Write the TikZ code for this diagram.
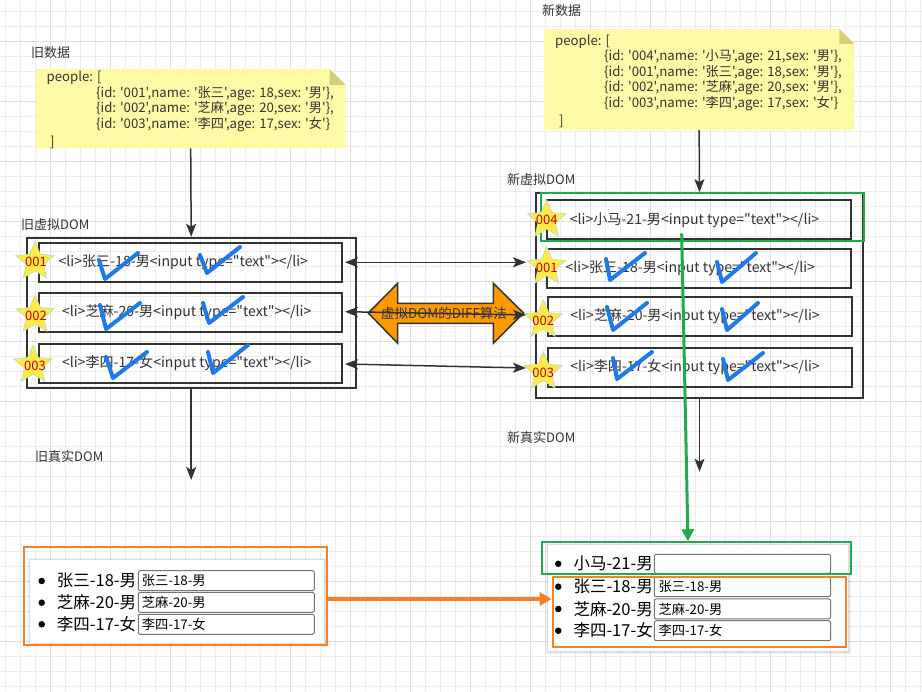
\documentclass[tikz,border=0pt]{standalone}
\usepackage{fontspec}
\setmainfont{Noto Sans CJK SC}[Ligatures=TeXOff]
\usetikzlibrary{arrows.meta,shapes.geometric}
\definecolor{dk}{RGB}{51,51,51}
\definecolor{gridminor}{RGB}{236,236,236}
\definecolor{gridmajor}{RGB}{222,222,222}
\definecolor{notefill}{RGB}{255,250,165}
\definecolor{notefold}{RGB}{212,206,122}
\definecolor{stary}{RGB}{255,234,70}
\definecolor{starline}{RGB}{196,222,186}
\definecolor{starred}{RGB}{204,0,0}
\definecolor{chkblue}{RGB}{30,122,236}
\definecolor{dgreen}{RGB}{34,170,76}
\definecolor{orgline}{RGB}{250,128,40}
\definecolor{orgfill}{RGB}{255,153,0}
\definecolor{inputgray}{RGB}{118,118,118}
\newcommand\setfs[1]{\fontsize{#1}{#1}\selectfont}
\begin{document}
\begin{tikzpicture}[x=1pt,y=-1pt,
  lbl/.style={anchor=west,inner sep=0pt,text=dk,font=\setfs{13}},
  notetxt/.style={anchor=west,inner sep=0pt,text=dk,font=\setfs{13.2}},
  box/.style={draw=dk,line width=1.8pt,inner sep=0pt},
  rowtxt/.style={inner sep=0pt,text=dk,font=\setfs{14.1}},
  starnode/.style={star,star points=5,star point ratio=2.2,minimum size=40pt,inner sep=0pt,fill=stary,draw=starline,line width=0.8pt},
  startxt/.style={inner sep=0pt,text=starred,font=\setfs{13}},
  chk/.style={draw=chkblue,line width=4pt,line cap=round,line join=round},
  arr/.style={draw=dk,line width=1.5pt,-{Stealth[length=13pt,width=10pt,inset=3pt]}},
  darr/.style={draw=dk,line width=1.5pt,{Stealth[length=13pt,width=10pt,inset=3pt]}-{Stealth[length=13pt,width=10pt,inset=3pt]}},
  inbox/.style={draw=inputgray,line width=1pt,rounded corners=2pt,fill=white,inner sep=0pt},
  listtxt/.style={anchor=west,inner sep=0pt,text=black,font=\setfs{16.5}},
  intxt/.style={anchor=west,inner sep=0pt,text=black,font=\setfs{13.3}},
  bul/.style={circle,fill=black,inner sep=0pt,minimum size=6.5pt}
]
\useasboundingbox (0,0) rectangle (922,692);
\fill[white] (0,0) rectangle (922,692);
% grid
\foreach \x in {5,20,...,920} \draw[gridminor,line width=0.8pt] (\x,0) -- (\x,692);
\foreach \y in {11.7,26.7,...,691} \draw[gridminor,line width=0.8pt] (0,\y) -- (922,\y);
\foreach \x in {50,110,...,920} \draw[gridmajor,line width=0.8pt] (\x,0) -- (\x,692);
\foreach \y in {41.7,101.7,...,691} \draw[gridmajor,line width=0.8pt] (0,\y) -- (922,\y);

% ---------- labels
\node[lbl] (lolddata) at (31,53) {旧数据};
\node[lbl] (lnewdata) at (542,11) {新数据};
\node[lbl] (loldv) at (21,225) {旧虚拟DOM};
\node[lbl] (lnewv) at (507,180) {新虚拟DOM};
\node[lbl] (loldr) at (35,457) {旧真实DOM};
\node[lbl] (lnewr) at (507,438) {新真实DOM};

% ---------- old note
\node[inner sep=0pt,minimum width=310pt,minimum height=79.3pt] (oldnote) at (190.7,108.65) {};
\fill[notefill] (35.7,69) -- (329.7,69) -- (345.7,85) -- (345.7,148.3) -- (35.7,148.3) -- cycle;
\fill[notefold] (329.7,69) -- (329.7,85) -- (345.7,85) -- cycle;
\node[notetxt] (on0) at (46.5,78) {people: [};
\node[notetxt] (on1) at (96,93.3) {\{id: '001',name: '张三',age: 18,sex: '男'\},};
\node[notetxt] (on2) at (96,109) {\{id: '002',name: '芝麻',age: 20,sex: '男'\},};
\node[notetxt] (on3) at (96,124.3) {\{id: '003',name: '李四',age: 17,sex: '女'\}};
\node[notetxt] (on4) at (50,142.5) {]};

% ---------- new note
\node[inner sep=0pt,minimum width=310.3pt,minimum height=101pt] (newnote) at (699.15,79.5) {};
\fill[notefill] (544,29) -- (839.3,29) -- (854.3,44) -- (854.3,130) -- (544,130) -- cycle;
\fill[notefold] (839.3,29) -- (839.3,44) -- (854.3,44) -- cycle;
\node[notetxt] (nn0) at (555,41.5) {people: [};
\node[notetxt] (nn1) at (604,57) {\{id: '004',name: '小马',age: 21,sex: '男'\},};
\node[notetxt] (nn2) at (604,72.5) {\{id: '001',name: '张三',age: 18,sex: '男'\},};
\node[notetxt] (nn3) at (604,88) {\{id: '002',name: '芝麻',age: 20,sex: '男'\},};
\node[notetxt] (nn4) at (604,103.5) {\{id: '003',name: '李四',age: 17,sex: '女'\}};
\node[notetxt] (nn5) at (559,121) {]};

% ---------- old virtual DOM
\node[box,minimum width=329pt,minimum height=150pt] (oldcont) at (191.2,312.7) {};
\node[box,minimum width=303pt,minimum height=39pt] (or1) at (190.8,262.2) {};
\node[box,minimum width=303pt,minimum height=39.6pt] (or2) at (190.8,312.5) {};
\node[box,minimum width=303pt,minimum height=39.6pt] (or3) at (190.8,363.5) {};
\node[rowtxt] (ot1) at (183.3,262) {<li>张三-18-男<input type="text"></li>};
\node[rowtxt] (ot2) at (186.7,312.5) {<li>芝麻-20-男<input type="text"></li>};
\node[rowtxt] (ot3) at (186.7,363.3) {<li>李四-17-女<input type="text"></li>};
\draw[chk] (99,260) -- (105,279) -- (138,253);
\draw[chk] (200,255) -- (207,273) -- (240,247);
\draw[chk] (100,305) -- (106,329) -- (140,303);
\draw[chk] (203,303) -- (209,323) -- (243,297);
\draw[chk] (106,357) -- (113,378) -- (147,352);
\draw[chk] (208,352) -- (213,373) -- (248,345);
\node[starnode] (os1) at (35,261.7) {};
\node[starnode] (os2) at (35,315) {};
\node[starnode] (os3) at (33,365) {};
\node[startxt] (ost1) at (36,261.7) {001};
\node[startxt] (ost2) at (36,315.5) {002};
\node[startxt] (ost3) at (35,366) {003};

% ---------- new virtual DOM
\node[box,minimum width=327.6pt,minimum height=205.3pt] (newcont) at (699.5,295.7) {};
\node[box,minimum width=304pt,minimum height=39pt] (nr0) at (698.7,219.5) {};
\node[box,minimum width=304pt,minimum height=39.3pt] (nr1) at (698.7,268.7) {};
\node[box,minimum width=304pt,minimum height=39.3pt] (nr2) at (699.7,316.3) {};
\node[box,minimum width=304pt,minimum height=39.6pt] (nr3) at (699.7,367.5) {};
\node[draw=dgreen,line width=2pt,inner sep=0pt,minimum width=323.6pt,minimum height=48pt] (greensel) at (702.5,216.7) {};
\node[rowtxt] (nt0) at (694.5,220) {<li>小马-21-男<input type="text"></li>};
\node[rowtxt] (nt1) at (690.3,268) {<li>张三-18-男<input type="text"></li>};
\node[rowtxt] (nt2) at (695,316) {<li>芝麻-20-男<input type="text"></li>};
\node[rowtxt] (nt3) at (695,367) {<li>李四-17-女<input type="text"></li>};
\draw[chk] (606,259) -- (610,280) -- (645,253);
\draw[chk] (717,262) -- (722,282) -- (756,253);
\draw[chk] (607,307) -- (613,330) -- (647,303);
\draw[chk] (722,309) -- (727,330) -- (758,303);
\draw[chk] (613,358) -- (617,379) -- (652,352);
\draw[chk] (723,359) -- (728,380) -- (763,353);
\node[starnode] (ns0) at (546.7,220) {};
\node[starnode] (ns1) at (546.7,266.7) {};
\node[starnode] (ns2) at (543.3,320) {};
\node[starnode] (ns3) at (543.3,371.7) {};
\node[startxt] (nst0) at (546.7,220) {004};
\node[startxt] (nst1) at (546.7,267.5) {001};
\node[startxt] (nst2) at (543.3,321) {002};
\node[startxt] (nst3) at (543.3,372.5) {003};

% ---------- arrows from notes
\draw[arr] (oldnote.south) -- (oldcont.north);
\draw[arr] (newnote.south) -- (newcont.north);
\coordinate (oldrealtop) at (191.2,480);
\coordinate (newrealtop) at (699.5,471.7);
\draw[arr] (oldcont.south) -- (oldrealtop);
\draw[arr] (newcont.south) -- (newrealtop);

% ---------- DIFF double arrow
\filldraw[fill=orgfill,draw=dk,line width=1.5pt,line join=miter]
  (368.3,313) -- (397.7,283.3) -- (397.7,303.3) -- (493.3,303.3) -- (493.3,283.3)
  -- (523.5,313) -- (493.3,343.3) -- (493.3,323.3) -- (397.7,323.3) -- (397.7,343.3) -- cycle;
\node[inner sep=0pt,text=dk,font=\setfs{13.5}] (diff) at (444,313) {虚拟DOM的DIFF算法};

% bidirectional connectors
\coordinate (l1) at (345,262.3); \coordinate (r1) at (526,262.3);
\coordinate (l2) at (345,311.7); \coordinate (r2) at (526,315);
\coordinate (l3) at (345,364);   \coordinate (r3) at (526,368);
\draw[darr] (l1) -- (r1);
\draw[darr] (l2) -- (r2);
\draw[darr] (l3) -- (r3);

% ---------- old real DOM
\fill[black,opacity=0.05] (27,558) rectangle (327,647);
\fill[black,opacity=0.08] (28.5,559) rectangle (325.5,645);
\fill[white] (30,560) rectangle (324,643);
\node[bul] (ob1) at (41.7,581) {};
\node[bul] (ob2) at (41.7,602.7) {};
\node[bul] (ob3) at (41.7,624.3) {};
\node[listtxt] (ol1) at (56.7,580.7) {张三-18-男};
\node[listtxt] (ol2) at (56.7,602.3) {芝麻-20-男};
\node[listtxt] (ol3) at (56.7,624.3) {李四-17-女};
\node[inbox,minimum width=176pt,minimum height=20pt] (oi1) at (226.3,580.7) {};
\node[inbox,minimum width=176pt,minimum height=20pt] (oi2) at (226.3,602.3) {};
\node[inbox,minimum width=176pt,minimum height=20pt] (oi3) at (226.3,624.3) {};
\node[intxt] (oit1) at (141.7,580.7) {张三-18-男};
\node[intxt] (oit2) at (141.7,602.3) {芝麻-20-男};
\node[intxt] (oit3) at (141.7,624.3) {李四-17-女};
\node[draw=orgline,line width=2pt,inner sep=0pt,minimum width=303pt,minimum height=98.3pt] (oldreal) at (175.8,595.85) {};

% ---------- new real DOM
\fill[black,opacity=0.05] (545.3,543) rectangle (851.3,654);
\fill[black,opacity=0.08] (546.8,544) rectangle (849.8,652.5);
\fill[white] (548.3,545) rectangle (848.3,650.7);
\node[bul] (nb0) at (558.3,563.8) {};
\node[bul] (nb1) at (558.3,586.7) {};
\node[bul] (nb2) at (558.3,609) {};
\node[bul] (nb3) at (558.3,630.7) {};
\node[listtxt] (nl0) at (573.3,563.5) {小马-21-男};
\node[listtxt] (nl1) at (573.3,586.5) {张三-18-男};
\node[listtxt] (nl2) at (573.3,608.8) {芝麻-20-男};
\node[listtxt] (nl3) at (573.3,630.5) {李四-17-女};
\node[inbox,minimum width=176.4pt,minimum height=19pt] (ni0) at (742.5,563.8) {};
\node[inbox,minimum width=176.4pt,minimum height=20pt] (ni1) at (742.5,586.7) {};
\node[inbox,minimum width=176.4pt,minimum height=20pt] (ni2) at (742.5,609) {};
\node[inbox,minimum width=176.4pt,minimum height=20pt] (ni3) at (742.5,630.7) {};
\node[intxt] (nit1) at (658.3,586.7) {张三-18-男};
\node[intxt] (nit2) at (658.3,609) {芝麻-20-男};
\node[intxt] (nit3) at (658.3,630.7) {李四-17-女};
\node[draw=dgreen,line width=2pt,inner sep=0pt,minimum width=308.4pt,minimum height=31.7pt] (newgreen) at (696.5,558.15) {};
\node[draw=orgline,line width=2pt,inner sep=0pt,minimum width=293.3pt,minimum height=70pt] (neworange) at (699.35,612.3) {};

% ---------- green & orange arrows
\coordinate (gstart) at (681.7,233.3);
\draw[draw=dgreen,line width=3pt,-{Triangle[length=12pt,width=12pt]}] (gstart) -- (newgreen.north -| 688,0);
\draw[draw=orgline,line width=3.5pt,-{Triangle[length=12pt,width=13pt]}] (oldreal.east |- 0,599) -- (neworange.west |- 0,599);
\end{tikzpicture}
\end{document}
